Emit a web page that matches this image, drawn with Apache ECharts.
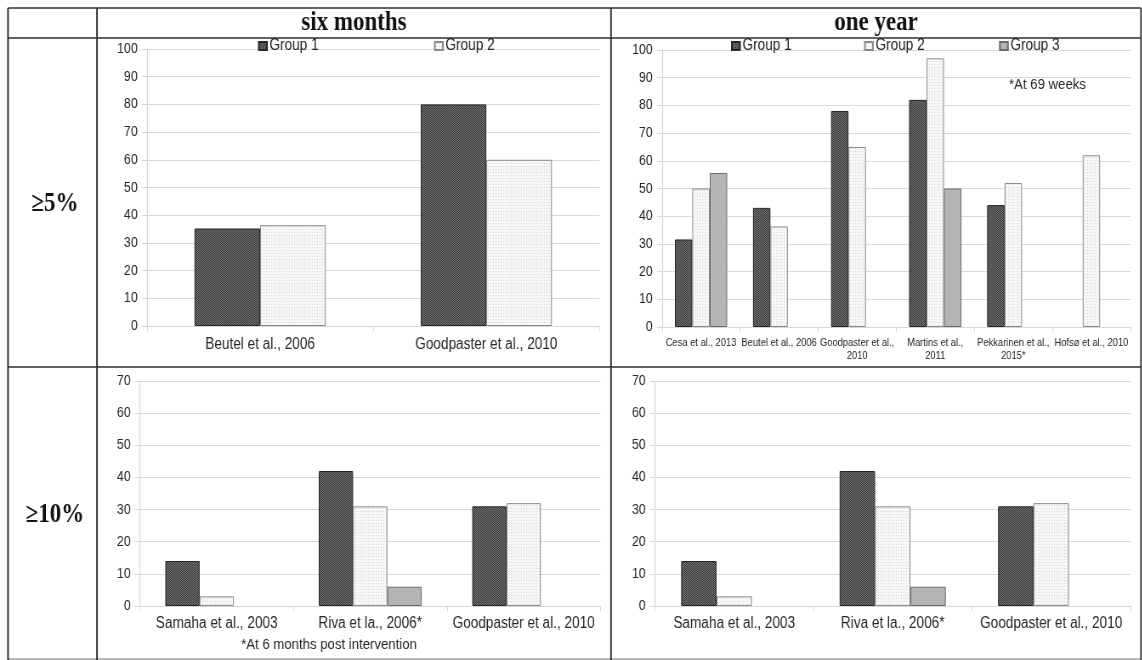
<!DOCTYPE html>
<html>
<head>
<meta charset="utf-8">
<script src="https://cdn.jsdelivr.net/npm/echarts@6/dist/echarts.min.js"></script>
<style>
  html, body { margin: 0; padding: 0; background: #fff; overflow: hidden; width: 1142px; height: 660px; }
  /* the figure is laid out wider, then condensed horizontally */
  #chart { width: 1344px; height: 660px; transform: scaleX(0.85); transform-origin: 0 0; }
</style>
</head>
<body>
<div id="chart"></div>
<script>
// ---- data ----
const sixMonthStudies = ['Beutel et al., 2006', 'Goodpaster et al., 2010'];
const sixMonthG1 = [35.2, 80];
const sixMonthG2 = [36.4, 60];

const oneYearStudies = ['Cesa et al., 2013', 'Beutel et al., 2006', 'Goodpaster et al.,\n2010',
  'Martins et al.,\n2011', 'Pekkarinen et al.,\n2015*', 'Hofsø et al., 2010'];
const oneYearG1 = [31.6, 43, 78, 82, 44, null];
const oneYearG2 = [50, 36.3, 65, 97, 52, 62];
const oneYearG3 = [55.6, null, null, 50, null, null];

const tenPctStudies = ['Samaha et al., 2003', 'Riva et la., 2006*', 'Goodpaster et al., 2010'];
const tenPctSixG1 = [14, 42, 31];
const tenPctSixG2 = [3, 31, 32];
const tenPctSixG3 = [null, 6, null];
const tenPctYearG1 = [14, 42, 31];
const tenPctYearG2 = [3, 31, 32];
const tenPctYearG3 = [null, 6, null];

const groupNames = ['Group 1', 'Group 2', 'Group 3'];
const columnTitles = ['six months', 'one year'];
const rowTitles = ['≥5%', '≥10%'];
const fivePctScale = { min: 0, max: 100, interval: 10 };
const tenPctScale = { min: 0, max: 70, interval: 10 };

// ---- layout helpers ----
const SQUEEZE = 0.85;               // horizontal condensing applied by CSS
const W = 1142;
const X = (px) => px / SQUEEZE;     // on-screen x -> layout x

const SANS = "'Liberation Sans', Arial, sans-serif";
const SERIF = "'Liberation Serif', 'Times New Roman', serif";

function makePattern(size, bg, dots) {
  const c = document.createElement('canvas');
  c.width = size; c.height = size;
  const ctx = c.getContext('2d');
  ctx.fillStyle = bg;
  ctx.fillRect(0, 0, size, size);
  dots.forEach(([x, y, col]) => { ctx.fillStyle = col; ctx.fillRect(x, y, 1, 1); });
  return { image: c, repeat: 'repeat' };
}
const g1Fill = makePattern(2, '#333333', [[0, 0, '#7a7a7a'], [1, 1, '#7a7a7a']]);
const g2Fill = makePattern(3, '#f7f7f7', [[1, 1, '#d4d4d4']]);
const fills = [g1Fill, g2Fill, '#b4b4b4'];
const borders = ['#262626', '#8a8a8a', '#6a6a6a'];

function barSeries(gi, data, axisIdx, gap) {
  return {
    type: 'bar', name: groupNames[gi], data: data,
    xAxisIndex: axisIdx, yAxisIndex: axisIdx,
    barGap: '0%', barCategoryGap: gap,
    itemStyle: { color: fills[gi], borderColor: borders[gi], borderWidth: 1 },
    emphasis: { disabled: true }, silent: true
  };
}

function xAxis(gridIndex, cats, fontSize, margin, lineHeight) {
  return {
    type: 'category', gridIndex: gridIndex, data: cats,
    axisLine: { lineStyle: { color: '#d6d6d6', width: 1 } },
    axisTick: { show: true, length: 5, interval: 0, lineStyle: { color: '#d6d6d6' } },
    axisLabel: { interval: 0, color: '#262626', fontFamily: SANS, fontSize: fontSize,
      margin: margin, lineHeight: lineHeight }
  };
}
function yAxis(gridIndex, scale) {
  return {
    type: 'value', gridIndex: gridIndex, min: scale.min, max: scale.max, interval: scale.interval,
    axisLine: { show: true, lineStyle: { color: '#d6d6d6', width: 1.2 } },
    axisTick: { show: true, length: 6, lineStyle: { color: '#d6d6d6' } },
    splitLine: { lineStyle: { color: '#d9d9d9', width: 1 } },
    axisLabel: { color: '#262626', fontFamily: SANS, fontSize: 14.5, margin: 11 }
  };
}
function legendItem(gi, left, top) {
  return {
    data: [groupNames[gi]], left: X(left), top: top, padding: 0,
    itemWidth: 9.5, itemHeight: 8, icon: 'rect', selectedMode: false,
    textStyle: { color: '#222', fontFamily: SANS, fontSize: 16, padding: [0, 0, 0, -2] }
  };
}

// table rules (x in on-screen pixels)
const tableLines = [
  [8, 8, 1141, 8, '#2e2e2e'], [8, 38, 1141, 38, '#2e2e2e'], [8, 367, 1141, 367, '#2e2e2e'],
  [8, 659, 1141, 659, '#a0a0a0'],
  [8, 8, 8, 660, '#2e2e2e'], [97, 8, 97, 660, '#2e2e2e'], [611, 8, 611, 660, '#2e2e2e'],
  [1141, 8, 1141, 660, '#2e2e2e']
].map(([x1, y1, x2, y2, col]) => ({
  type: 'line', silent: true,
  shape: { x1: X(x1), y1, x2: X(x2), y2 },
  style: { stroke: col, lineWidth: x1 === x2 ? 1.6 / SQUEEZE : 1.6 }
}));

function serifText(text, x, y, size) {
  return {
    type: 'text', x: X(x), y: y, silent: true,
    style: { text: text, x: 0, y: 0, align: 'center', verticalAlign: 'middle',
      font: 'bold ' + size + 'px ' + SERIF, fill: '#111' }
  };
}
function noteText(text, x, y, size, align) {
  return {
    type: 'text', x: X(x), y: y, silent: true,
    style: { text: text, x: 0, y: 0, align: align, verticalAlign: 'middle',
      font: size + 'px ' + SANS, fill: '#262626' }
  };
}

const chart = echarts.init(document.getElementById('chart'), null, { renderer: 'canvas' });
chart.setOption({
  animation: false,
  backgroundColor: '#fff',
  grid: [
    { left: X(147), right: X(W - 599), top: 49, bottom: 660 - 326 },
    { left: X(662), right: X(W - 1130), top: 50, bottom: 660 - 327 },
    { left: X(140), right: X(W - 600), top: 381, bottom: 660 - 606 },
    { left: X(655), right: X(W - 1130), top: 381, bottom: 660 - 606 }
  ],
  xAxis: [
    xAxis(0, sixMonthStudies, 16, 10, 18),
    xAxis(1, oneYearStudies, 11, 10, 12.5),
    xAxis(2, tenPctStudies, 16, 9, 18),
    xAxis(3, tenPctStudies, 16, 9, 18)
  ],
  yAxis: [yAxis(0, fivePctScale), yAxis(1, fivePctScale), yAxis(2, tenPctScale), yAxis(3, tenPctScale)],
  legend: [
    legendItem(0, 258, 38), legendItem(1, 434, 38),
    legendItem(0, 731, 38), legendItem(1, 864, 38), legendItem(2, 999, 38)
  ],
  series: [
    barSeries(0, sixMonthG1, 0, '42%'), barSeries(1, sixMonthG2, 0, '42%'),
    barSeries(0, oneYearG1, 1, '33%'), barSeries(1, oneYearG2, 1, '33%'), barSeries(2, oneYearG3, 1, '33%'),
    barSeries(0, tenPctSixG1, 2, '33%'), barSeries(1, tenPctSixG2, 2, '33%'), barSeries(2, tenPctSixG3, 2, '33%'),
    barSeries(0, tenPctYearG1, 3, '33%'), barSeries(1, tenPctYearG2, 3, '33%'), barSeries(2, tenPctYearG3, 3, '33%')
  ],
  graphic: tableLines.concat([
    serifText(columnTitles[0], 354, 23, 27),
    serifText(columnTitles[1], 876, 23, 27),
    serifText(rowTitles[0], 55, 204, 27),
    serifText(rowTitles[1], 55, 515, 27),
    noteText('*At 69 weeks', 1009, 85, 15.5, 'left'),
    noteText('*At 6 months post intervention', 329, 645, 15.5, 'center')
  ])
});
</script>
</body>
</html>
